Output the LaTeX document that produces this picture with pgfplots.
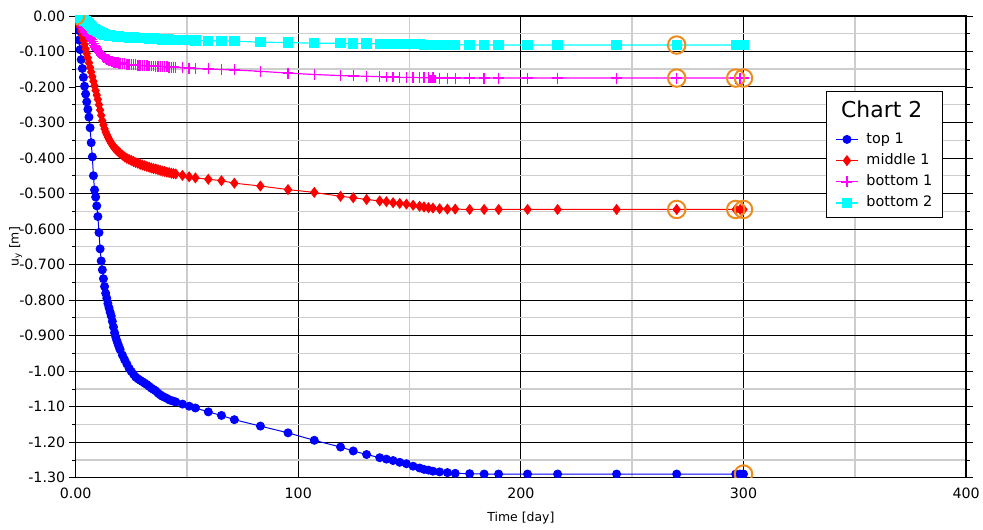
\documentclass[border=0pt]{standalone}
\usepackage{fontspec}
\setmainfont{DejaVu Sans}
\usepackage{pgfplots}
\pgfplotsset{compat=1.18}
\usepackage{pgfplotstable}
\definecolor{orangec}{RGB}{236,140,30}
\definecolor{minorgray}{RGB}{205,205,205}
\definecolor{cblue}{RGB}{0,0,255}
\definecolor{cred}{RGB}{255,0,0}
\definecolor{cmag}{RGB}{255,0,255}
\definecolor{ccyan}{RGB}{0,255,255}
\pgfplotstableread{
t top mid bot1 bot2
0 0 0 0 0
0.5 -0.020 -0.005 -0.004 -0.001
1 -0.040 -0.012 -0.008 -0.003
1.5 -0.068 -0.020 -0.013 -0.005
2 -0.095 -0.030 -0.018 -0.007
2.5 -0.123 -0.042 -0.023 -0.009
3 -0.148 -0.055 -0.029 -0.011
3.5 -0.173 -0.068 -0.035 -0.012
4 -0.198 -0.080 -0.040 -0.014
4.5 -0.220 -0.093 -0.045 -0.015
5 -0.242 -0.106 -0.050 -0.017
5.5 -0.263 -0.118 -0.054 -0.020
6 -0.285 -0.132 -0.058 -0.023
6.5 -0.315 -0.145 -0.062 -0.026
7 -0.357 -0.158 -0.066 -0.029
7.5 -0.397 -0.171 -0.072 -0.033
8 -0.450 -0.184 -0.078 -0.036
8.5 -0.490 -0.197 -0.083 -0.038
9 -0.510 -0.210 -0.088 -0.040
9.5 -0.535 -0.223 -0.093 -0.042
10 -0.565 -0.235 -0.097 -0.044
10.5 -0.610 -0.250 -0.102 -0.046
11 -0.656 -0.265 -0.106 -0.047
11.5 -0.690 -0.280 -0.110 -0.048
12 -0.715 -0.295 -0.113 -0.050
12.5 -0.740 -0.307 -0.116 -0.051
13 -0.762 -0.318 -0.118 -0.052
13.5 -0.781 -0.327 -0.120 -0.053
14 -0.795 -0.334 -0.122 -0.054
14.5 -0.810 -0.341 -0.124 -0.054
15 -0.822 -0.347 -0.125 -0.055
15.5 -0.834 -0.353 -0.127 -0.055
16 -0.845 -0.358 -0.128 -0.056
16.5 -0.860 -0.363 -0.129 -0.056
17 -0.876 -0.368 -0.130 -0.057
17.5 -0.892 -0.372 -0.130 -0.057
18 -0.904 -0.375 -0.131 -0.057
18.5 -0.914 -0.378 -0.132 -0.058
19 -0.923 -0.381 -0.132 -0.058
19.5 -0.932 -0.384 -0.133 -0.058
20 -0.940 -0.387 -0.133 -0.059
21 -0.955 -0.392 -0.134 -0.059
22 -0.968 -0.397 -0.135 -0.060
23 -0.980 -0.401 -0.136 -0.060
24 -0.992 -0.404 -0.137 -0.061
25 -1.001 -0.407 -0.137 -0.061
26 -1.009 -0.410 -0.138 -0.061
27 -1.017 -0.413 -0.138 -0.062
28 -1.022 -0.415 -0.139 -0.062
29 -1.026 -0.418 -0.139 -0.062
30 -1.030 -0.420 -0.140 -0.063
31 -1.034 -0.422 -0.140 -0.063
32 -1.038 -0.424 -0.140 -0.063
33 -1.043 -0.426 -0.141 -0.064
34 -1.048 -0.428 -0.141 -0.064
35 -1.052 -0.430 -0.141 -0.064
36 -1.056 -0.431 -0.142 -0.065
37 -1.062 -0.433 -0.142 -0.065
38 -1.067 -0.435 -0.142 -0.065
39 -1.071 -0.437 -0.143 -0.066
40 -1.074 -0.438 -0.143 -0.066
41 -1.077 -0.440 -0.143 -0.066
42 -1.081 -0.441 -0.144 -0.066
43 -1.083 -0.443 -0.144 -0.067
44 -1.085 -0.444 -0.144 -0.067
45 -1.087 -0.445 -0.145 -0.067
48 -1.093 -0.449 -0.146 -0.068
51 -1.099 -0.453 -0.147 -0.068
53.8 -1.104 -0.456 -0.148 -0.069
59.6 -1.115 -0.460 -0.149 -0.070
65.5 -1.125 -0.464 -0.151 -0.070
71.3 -1.137 -0.471 -0.152 -0.071
83 -1.155 -0.479 -0.156 -0.074
95.4 -1.174 -0.489 -0.161 -0.075
107.2 -1.195 -0.497 -0.165 -0.077
119 -1.214 -0.508 -0.168 -0.077
124.7 -1.225 -0.512 -0.169 -0.078
130.7 -1.235 -0.517 -0.170 -0.078
136.6 -1.244 -0.521 -0.171 -0.079
139.6 -1.248 -0.523 -0.172 -0.079
142.6 -1.252 -0.526 -0.172 -0.079
145.6 -1.257 -0.528 -0.173 -0.080
148.6 -1.261 -0.530 -0.173 -0.080
151.6 -1.268 -0.533 -0.173 -0.080
154.5 -1.273 -0.536 -0.174 -0.080
156.5 -1.277 -0.538 -0.174 -0.081
158.5 -1.279 -0.540 -0.174 -0.081
160.5 -1.282 -0.541 -0.174 -0.081
163.5 -1.284 -0.543 -0.175 -0.081
167 -1.286 -0.544 -0.175 -0.081
170.5 -1.288 -0.544 -0.175 -0.081
177 -1.289 -0.545 -0.175 -0.082
183.5 -1.290 -0.545 -0.175 -0.082
190 -1.290 -0.545 -0.175 -0.082
203 -1.290 -0.545 -0.175 -0.082
216.5 -1.290 -0.545 -0.175 -0.082
243 -1.290 -0.545 -0.175 -0.082
270 -1.290 -0.545 -0.175 -0.082
296.5 -1.290 -0.545 -0.175 -0.082
298.5 -1.290 -0.545 -0.175 -0.082
300 -1.290 -0.545 -0.175 -0.082
}\data
\begin{document}
\begin{tikzpicture}
\begin{axis}[
  scale only axis, width=895bp, height=464bp,
  xmin=0, xmax=400, ymin=-1.3, ymax=0,
  xtick={0,100,200,300,400},
  xticklabels={0.00,100,200,300,400},
  ytick={0,-0.1,-0.2,-0.3,-0.4,-0.5,-0.6,-0.7,-0.8,-0.9,-1.0,-1.1,-1.2,-1.3},
  yticklabels={0.00,-0.100,-0.200,-0.300,-0.400,-0.500,-0.600,-0.700,-0.800,-0.900,-1.00,-1.10,-1.20,-1.30},
  minor xtick={50,150,250,350},
  minor ytick={-0.05,-0.15,-0.25,-0.35,-0.45,-0.55,-0.65,-0.75,-0.85,-0.95,-1.05,-1.15,-1.25},
  grid=both,
  major grid style={black, line width=0.9bp},
  minor grid style={minorgray, line width=1.4bp},
  axis line style={black, line width=1.3bp},
  tick align=outside,
  major tick length=7bp, minor tick length=3.5bp,
  xtick style={draw=none},
  ytick style={black, line width=0.6bp},
  ticklabel style={font=\fontsize{14.3bp}{17bp}\selectfont},
  xlabel={Time [day]}, ylabel={u\textsubscript{y} [m]},
  label style={font=\fontsize{12.5bp}{15bp}\selectfont},
  xlabel style={at={(axis description cs:0.5,-0.088)}, anchor=center},
  ylabel style={at={(axis description cs:-0.056,0.5)}, anchor=south},
  clip marker paths=true,
  legend style={at={(axis description cs:0.853,0.748)}, anchor=north west,
    draw=none, fill=none, inner sep=0pt, row sep=7.3bp, column sep=8bp,
    font=\fontsize{14.5bp}{17bp}\selectfont,
    nodes={inner sep=0pt, text height=11bp, text depth=3bp},
    cells={anchor=west}},
  legend image code/.code={\draw[mark repeat=2, mark phase=2] plot coordinates {(0bp,0bp) (11bp,0bp) (22bp,0bp)};},
]
\addplot[cblue, line width=1bp, mark=*, mark size=4bp] table[x=t,y=top]{\data};
\addlegendentry{top 1}
\addplot[cred, line width=1bp, mark=diamond*, mark size=4.8bp] table[x=t,y=mid]{\data};
\addlegendentry{middle 1}
\addplot[cmag, line width=1.2bp, mark=+, mark size=5.5bp, mark options={line width=1.4bp}] table[x=t,y=bot1]{\data};
\addlegendentry{bottom 1}
\addplot[ccyan, line width=1.2bp, mark=square*, mark size=4.6bp] table[x=t,y=bot2]{\data};
\addlegendentry{bottom 2}
\addplot[only marks, cmag, mark=square*, mark size=3.5bp, forget plot] coordinates {(160,-0.178)};
\addplot[only marks, orangec, mark=o, mark size=8.8bp, line width=2bp, forget plot] coordinates {
(0,0) (270,-0.082) (270,-0.175) (296.5,-0.175) (300,-0.175) (270,-0.545) (296.5,-0.545) (300,-0.545) (300,-1.29)};
\filldraw[fill=white, draw=black, line width=1.1bp] (axis description cs:0.8435,0.836) rectangle (axis description cs:0.9735,0.563);
\node[anchor=west, inner sep=0pt, font=\fontsize{22bp}{24bp}\selectfont] at (axis description cs:0.8595,0.797) {Chart 2};
\end{axis}
\path (current axis.south west) ++(-76bp,-52bp) rectangle ++(983bp,532bp);
\end{tikzpicture}
\end{document}
